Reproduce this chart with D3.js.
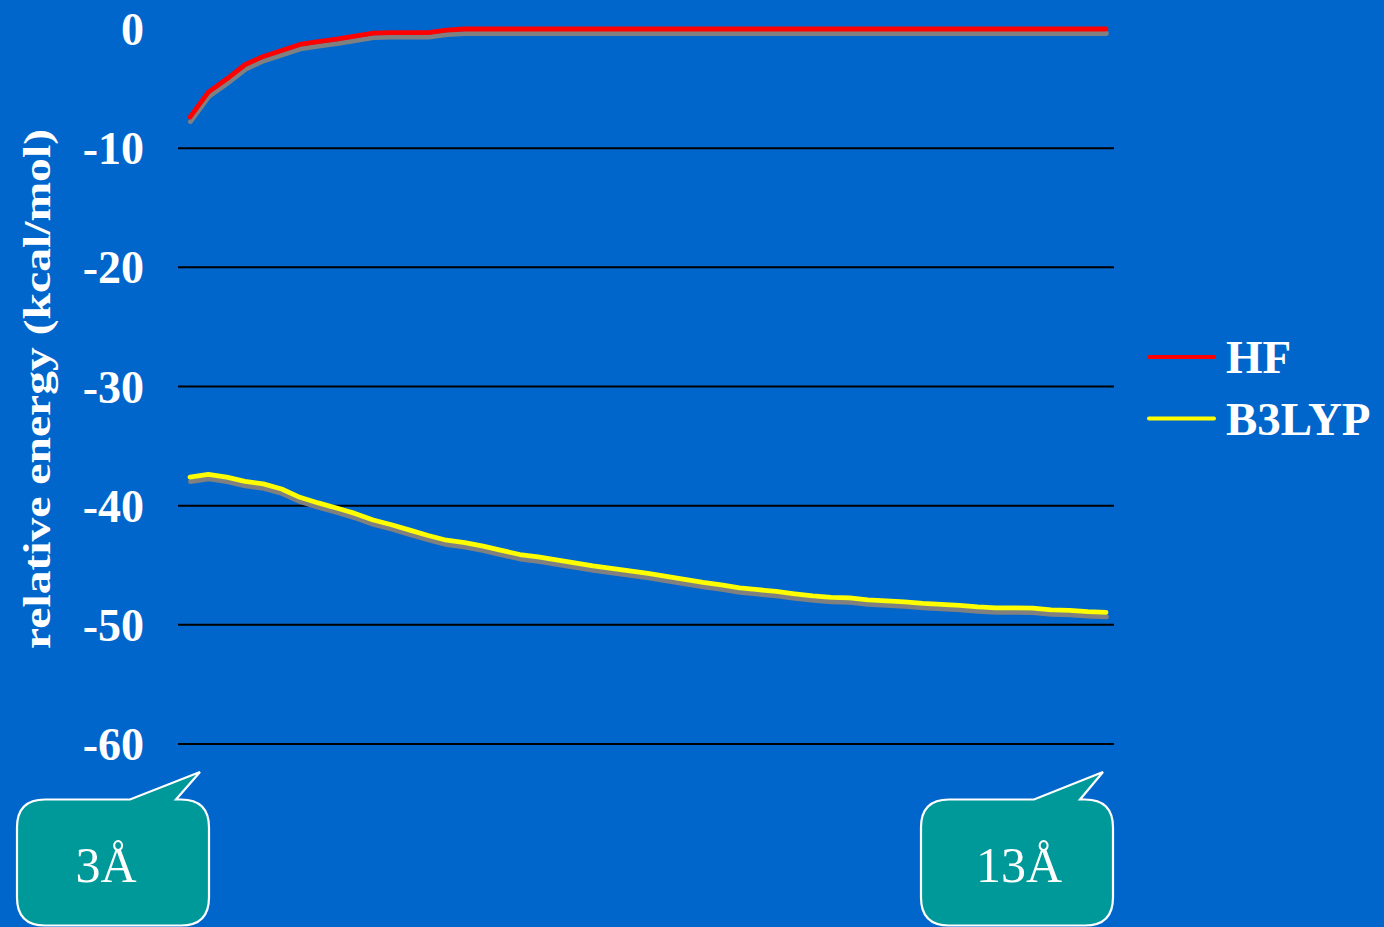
<!DOCTYPE html>
<html>
<head>
<meta charset="utf-8">
<script src="https://cdn.jsdelivr.net/npm/d3@7/dist/d3.min.js"></script>
<style>
  html, body { margin: 0; padding: 0; background: #0066cc; overflow: hidden; }
  svg { display: block; }
</style>
</head>
<body>
<svg id="chart" width="1384" height="927"></svg>
<script>
// Separation distance (Å) between the two fragments
const distances = [
  3.0, 3.2, 3.4, 3.6, 3.8, 4.0, 4.2, 4.4, 4.6, 4.8,
  5.0, 5.2, 5.4, 5.6, 5.8, 6.0, 6.2, 6.4, 6.6, 6.8,
  7.0, 7.2, 7.4, 7.6, 7.8, 8.0, 8.2, 8.4, 8.6, 8.8,
  9.0, 9.2, 9.4, 9.6, 9.8, 10.0, 10.2, 10.4, 10.6, 10.8,
  11.0, 11.2, 11.4, 11.6, 11.8, 12.0, 12.2, 12.4, 12.6, 12.8,
  13.0
];

// Relative energy (kcal/mol), Hartree-Fock
const hfEnergy = [
  -7.4, -5.3, -4.2, -3.0, -2.3, -1.8, -1.3, -1.05, -0.85, -0.6,
  -0.35, -0.3, -0.3, -0.3, -0.1, 0, 0, 0, 0, 0,
  0, 0, 0, 0, 0, 0, 0, 0, 0, 0,
  0, 0, 0, 0, 0, 0, 0, 0, 0, 0,
  0, 0, 0, 0, 0, 0, 0, 0, 0, 0,
  0
];

// Relative energy (kcal/mol), B3LYP
const b3lypEnergy = [
  -37.6, -37.37, -37.6, -37.96, -38.17, -38.6, -39.3, -39.77, -40.2, -40.65,
  -41.2, -41.6, -42.05, -42.5, -42.9, -43.1, -43.4, -43.75, -44.1, -44.3,
  -44.55, -44.8, -45.05, -45.26, -45.47, -45.68, -45.93, -46.18, -46.43, -46.64,
  -46.9, -47.05, -47.2, -47.4, -47.57, -47.7, -47.73, -47.9, -47.99, -48.07,
  -48.2, -48.28, -48.36, -48.49, -48.57, -48.57, -48.6, -48.74, -48.78, -48.9,
  -48.95
];

const yTicks = [0, -10, -20, -30, -40, -50, -60];
const gridTicks = [-10, -20, -30, -40, -50, -60];
const seriesNames = ["HF", "B3LYP"];
const seriesColors = ["#ff0000", "#ffff00"];
const calloutLabels = ["3Å", "13Å"];
const yTitle = "relative energy (kcal/mol)";

const serif = "'Liberation Serif', 'Times New Roman', Times, serif";
const svg = d3.select("#chart");

const plot = { left: 178, right: 1114 };
const x = d3.scaleLinear().domain([3, 13]).range([190, 1106]);
const y = d3.scaleLinear().domain([-60, 0]).range([744, 29]);

// background
svg.append("rect").attr("width", 1384).attr("height", 927).attr("fill", "#0066cc");

// horizontal gridlines
svg.append("g").selectAll("line").data(gridTicks).join("line")
  .attr("x1", plot.left).attr("x2", plot.right)
  .attr("y1", d => y(d)).attr("y2", d => y(d))
  .attr("stroke", "#000").attr("stroke-width", 2);

// y-axis tick labels
const yAxis = d3.axisLeft(y).tickValues(yTicks).tickSize(0).tickPadding(0).tickFormat(d3.format("d"));
const gAxis = svg.append("g").attr("transform", "translate(144,0)").call(yAxis);
gAxis.select(".domain").remove();
gAxis.selectAll("text")
  .attr("fill", "#fff")
  .attr("font-family", serif)
  .attr("font-weight", "bold")
  .attr("font-size", 46)
  .attr("dy", "0.34em")
  .text(d => d === 0 ? "0" : "-" + Math.abs(d));

// y-axis title
svg.append("text")
  .attr("transform", "translate(50,389) rotate(-90)")
  .attr("text-anchor", "middle")
  .attr("fill", "#fff")
  .attr("font-family", serif)
  .attr("font-weight", "bold")
  .attr("font-size", 38)
  .attr("textLength", 520)
  .attr("lengthAdjust", "spacingAndGlyphs")
  .text(yTitle);

// energy curves with drop shadow
const series = [hfEnergy, b3lypEnergy];
const line = d3.line().x((d, i) => x(distances[i])).y(d => y(d));

series.forEach((vals) => {
  svg.append("path").datum(vals)
    .attr("d", line)
    .attr("transform", "translate(0.5,4.5)")
    .attr("fill", "none")
    .attr("stroke", "#808080")
    .attr("stroke-width", 4.8)
    .attr("stroke-linejoin", "round")
    .attr("stroke-linecap", "round");
});
series.forEach((vals, k) => {
  svg.append("path").datum(vals)
    .attr("d", line)
    .attr("fill", "none")
    .attr("stroke", seriesColors[k])
    .attr("stroke-width", 4.8)
    .attr("stroke-linejoin", "round")
    .attr("stroke-linecap", "round");
});

// legend
const legend = svg.append("g");
seriesNames.forEach((name, i) => {
  const cy = 357 + i * 61.5;
  legend.append("line")
    .attr("x1", 1149).attr("x2", 1214).attr("y1", cy).attr("y2", cy)
    .attr("stroke", seriesColors[i]).attr("stroke-width", 4).attr("stroke-linecap", "round");
  legend.append("text")
    .attr("x", 1226).attr("y", cy + 16)
    .attr("fill", "#fff")
    .attr("font-family", serif)
    .attr("font-weight", "bold")
    .attr("font-size", 47)
    .text(name);
});

// speech-bubble callouts marking the first and last separation
function bubblePath(x0, x1, y0, y1, r, t1, tip, t2) {
  return [
    `M${x0 + r},${y0}`,
    `L${t1},${y0}`,
    `L${tip[0]},${tip[1]}`,
    `L${t2},${y0}`,
    `L${x1 - r},${y0}`,
    `Q${x1},${y0} ${x1},${y0 + r}`,
    `L${x1},${y1 - r}`,
    `Q${x1},${y1} ${x1 - r},${y1}`,
    `L${x0 + r},${y1}`,
    `Q${x0},${y1} ${x0},${y1 - r}`,
    `L${x0},${y0 + r}`,
    `Q${x0},${y0} ${x0 + r},${y0}`,
    "Z"
  ].join(" ");
}

const bubbleAt = [distances[0], distances[distances.length - 1]];
bubbleAt.forEach((d, i) => {
  const px = x(d);
  const tip = [px + (i === 0 ? 10 : -3), 772];
  const x1 = tip[0] + (i === 0 ? 9 : 10);
  const x0 = x1 - 192;
  const g = svg.append("g");
  g.append("path")
    .attr("d", bubblePath(x0, x1, 799.5, 925.5, 28, x1 - 79, tip, x1 - 33))
    .attr("fill", "#009999")
    .attr("stroke", "#fff")
    .attr("stroke-width", 2.2)
    .attr("stroke-linejoin", "miter");
  g.append("text")
    .attr("x", (x0 + x1) / 2 + (i === 0 ? -7 : 2))
    .attr("y", 882)
    .attr("text-anchor", "middle")
    .attr("fill", "#fff")
    .attr("font-family", serif)
    .attr("font-size", 50)
    .text(calloutLabels[i]);
});
</script>
</body>
</html>
